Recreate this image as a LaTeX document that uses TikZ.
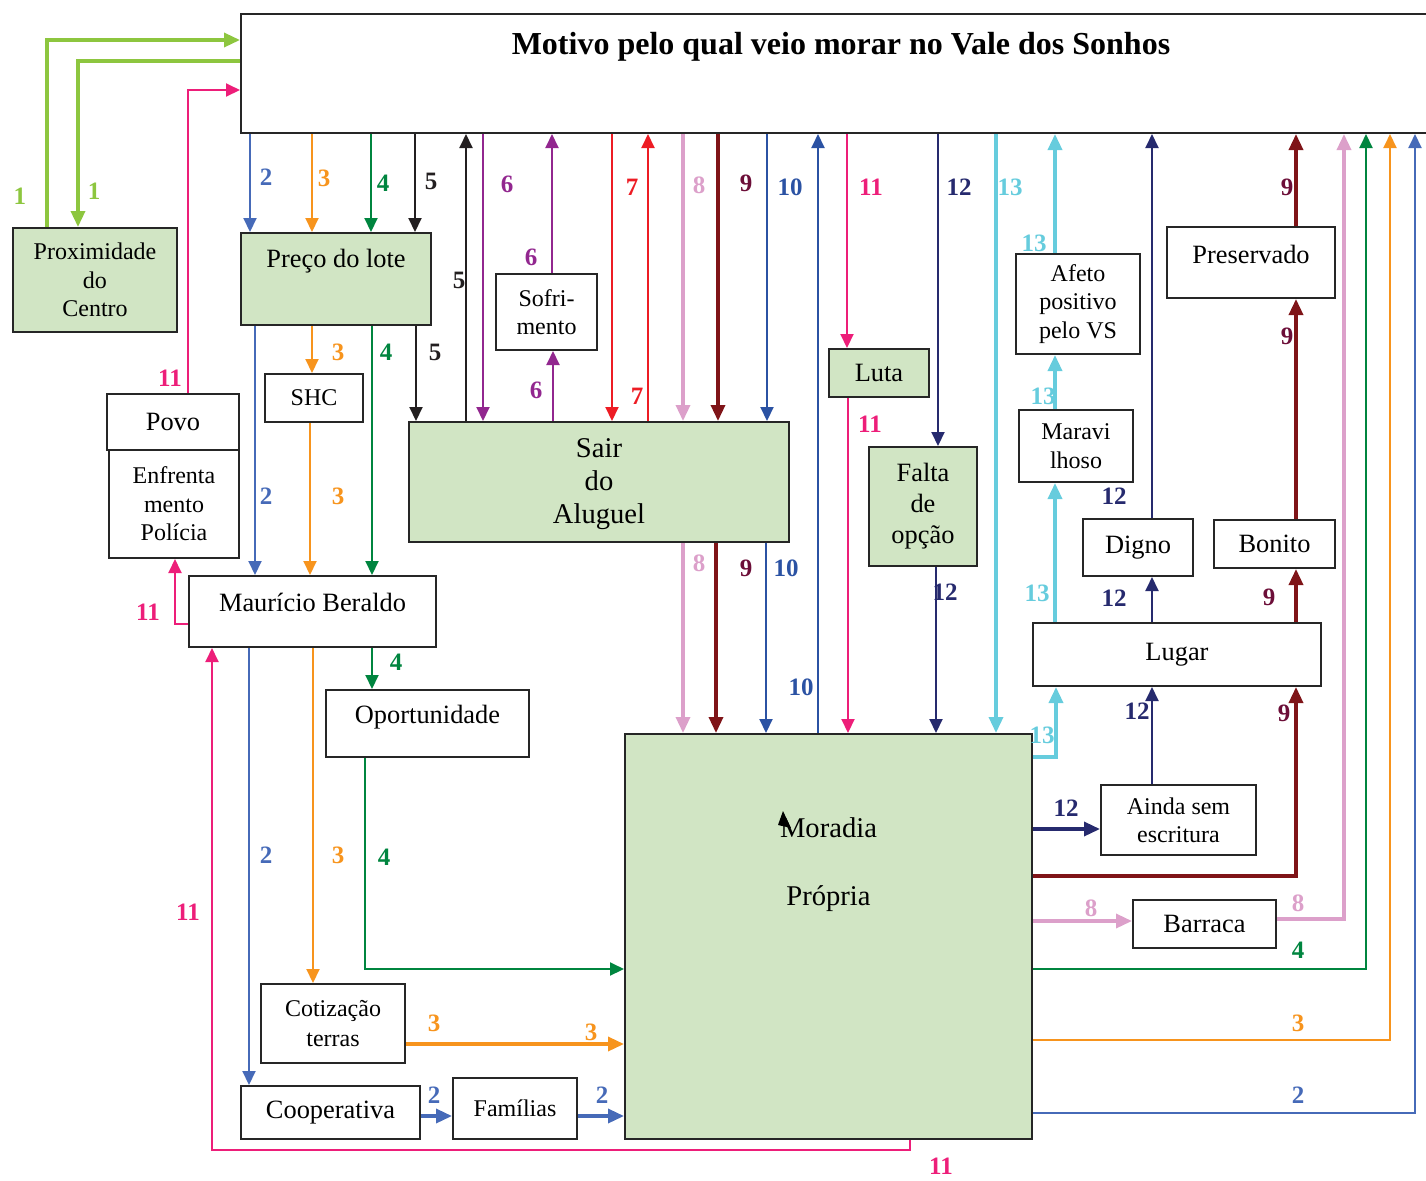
\documentclass[tikz,border=0pt]{standalone}
\usepackage{fontspec}
\setmainfont{Liberation Serif}
\usetikzlibrary{arrows.meta}
\definecolor{boxgreen}{RGB}{209,229,196}
\definecolor{c1}{RGB}{141,198,63}
\definecolor{c2}{RGB}{70,106,184}
\definecolor{c3}{RGB}{247,148,29}
\definecolor{c4}{RGB}{0,133,63}
\definecolor{c5}{RGB}{35,31,32}
\definecolor{c6}{RGB}{146,39,143}
\definecolor{c7}{RGB}{237,28,36}
\definecolor{c8}{RGB}{220,160,202}
\definecolor{c9}{RGB}{127,20,24}
\definecolor{c9t}{RGB}{108,14,56}
\definecolor{c10}{RGB}{43,82,163}
\definecolor{c11}{RGB}{237,30,121}
\definecolor{c12}{RGB}{38,42,110}
\definecolor{c13}{RGB}{102,204,221}
\newcommand\fntt{\fontsize{16}{19}\selectfont\bfseries}
\newcommand\fntl{\fontsize{13.2}{15.5}\selectfont}
\newcommand\fnts{\fontsize{12}{14.2}\selectfont}
\newcommand\fntxl{\fontsize{14.3}{16.5}\selectfont}
\newcommand\fntn{\fontsize{12.5}{14}\selectfont\bfseries}
\begin{document}
\begin{tikzpicture}[x=0.5pt,y=-0.5pt,
    box/.style={draw=black!85,line width=1pt,fill=white,anchor=north west,inner sep=1pt,align=center},
    gbox/.style={box,fill=boxgreen},
    lnk/.style={line width=1pt,-{Triangle[length=7pt,width=6.5pt]}},
    lnkb/.style={line width=1.7pt,-{Triangle[length=8pt,width=7pt]}},
    num/.style={font=\fntn,inner sep=0pt}]
    \useasboundingbox (0,0) rectangle (1426,1180);
    \clip (0,0) rectangle (1426,1180);

    %boxes
    \node[box,minimum width=600pt,minimum height=59.5pt,
        label={[anchor=center,yshift=-17pt,font=\fntt]north:Motivo pelo qual veio morar no Vale dos Sonhos}] (title) at (240,13) {};
    \node[gbox,minimum width=82pt,minimum height=52pt,font=\fnts] (prox) at (12,227) {Proximidade\\do\\Centro};
    \node[gbox,minimum width=95pt,minimum height=46pt,
        label={[anchor=center,yshift=-14.5pt,font=\fntl]north:Preço do lote}] (preco) at (240,232) {};
    \node[box,minimum width=49pt,minimum height=24pt,font=\fnts] (shc) at (264,373) {SHC};
    \node[box,minimum width=66pt,minimum height=28pt,font=\fntl] (povo) at (106,393) {Povo};
    \node[box,minimum width=65pt,minimum height=54pt,font=\fnts] (enfr) at (108,449) {Enfrenta\\mento\\Polícia};
    \node[box,minimum width=50.5pt,minimum height=38pt,font=\fnts] (sofr) at (495,273) {Sofri-\\mento};
    \node[gbox,minimum width=190pt,minimum height=60pt,
        label={[anchor=center,yshift=-31.5pt,align=center,font=\fntxl]north:Sair\\do\\Aluguel}] (sair) at (408,421) {};
    \node[gbox,minimum width=50pt,minimum height=24pt,font=\fntl] (luta) at (828,348) {Luta};
    \node[gbox,minimum width=54pt,minimum height=59.5pt,font=\fntl] (falta) at (868,446) {Falta\\de\\opção};
    \node[box,minimum width=62pt,minimum height=50pt,font=\fnts] (afeto) at (1015,253) {Afeto\\positivo\\pelo VS};
    \node[box,minimum width=57pt,minimum height=36pt,font=\fnts] (marav) at (1018,409) {Maravi\\lhoso};
    \node[box,minimum width=84pt,minimum height=35.5pt,
        label={[anchor=center,yshift=-14pt,font=\fntl]north:Preservado}] (preserv) at (1166,226) {};
    \node[box,minimum width=55pt,minimum height=28.5pt,font=\fntl] (digno) at (1082,518) {Digno};
    \node[box,minimum width=60.5pt,minimum height=24pt,font=\fntl] (bonito) at (1213,519) {Bonito};
    \node[box,minimum width=144pt,minimum height=31.5pt,font=\fntl] (lugar) at (1032,622) {Lugar};
    \node[box,minimum width=123.5pt,minimum height=35.5pt,
        label={[anchor=center,yshift=-13.5pt,font=\fntl]north:Maurício Beraldo}] (maur) at (188,575) {};
    \node[box,minimum width=101.5pt,minimum height=33.5pt,
        label={[anchor=center,yshift=-14pt,font=\fntl]north:Oportunidade}] (oport) at (325,689) {};
    \node[gbox,minimum width=203.5pt,minimum height=202.5pt,
        label={[anchor=center,yshift=-66pt,align=center,font=\fontsize{14.3}{34}\selectfont]north:Moradia\\Própria}] (morad) at (624,733) {};
    \node[box,minimum width=77.5pt,minimum height=35pt,font=\fnts] (ainda) at (1100,784) {Ainda sem\\escritura};
    \node[box,minimum width=71.5pt,minimum height=24pt,font=\fntl] (barraca) at (1132,899) {Barraca};
    \node[box,minimum width=72pt,minimum height=39.5pt,font=\fontsize{12}{15}\selectfont] (cotiz) at (260,983) {Cotização\\terras};
    \node[box,minimum width=89.5pt,minimum height=26.5pt,font=\fntl] (coop) at (240,1085) {Cooperativa};
    \node[box,minimum width=62pt,minimum height=30.5pt,font=\fnts] (famil) at (452,1077) {Famílias};
    \fill[black] (783,811) -- (778,825) -- (791,828) -- cycle;

    %1
    \draw[lnkb,c1] (47,0 |- prox.north) |- (title.west |- 0,40);
    \draw[lnkb,c1] (title.west |- 0,61) -| (78,0 |- prox.north);
    %2
    \draw[lnk,c2] (250,0 |- title.south) -- (250,0 |- preco.north);
    \draw[lnk,c2] (255,0 |- preco.south) -- (255,0 |- maur.north);
    \draw[lnk,c2] (249,0 |- maur.south) -- (249,0 |- coop.north);
    \draw[lnkb,c2] (coop.east |- 0,1116) -- (famil.west |- 0,1116);
    \draw[lnkb,c2] (famil.east |- 0,1116) -- (morad.west |- 0,1116);
    \draw[lnk,c2] (morad.east |- 0,1113) -| (1415,0 |- title.south);
    %3
    \draw[lnk,c3] (312,0 |- title.south) -- (312,0 |- preco.north);
    \draw[lnk,c3] (312,0 |- preco.south) -- (312,0 |- shc.north);
    \draw[lnk,c3] (310,0 |- shc.south) -- (310,0 |- maur.north);
    \draw[lnk,c3] (313,0 |- maur.south) -- (313,0 |- cotiz.north);
    \draw[lnkb,c3] (cotiz.east |- 0,1044) -- (morad.west |- 0,1044);
    \draw[lnk,c3] (morad.east |- 0,1040) -| (1390,0 |- title.south);
    %4
    \draw[lnk,c4] (371,0 |- title.south) -- (371,0 |- preco.north);
    \draw[lnk,c4] (372,0 |- preco.south) -- (372,0 |- maur.north);
    \draw[lnk,c4] (372,0 |- maur.south) -- (372,0 |- oport.north);
    \draw[lnk,c4] (365,0 |- oport.south) |- (morad.west |- 0,969);
    \draw[lnk,c4] (morad.east |- 0,969) -| (1366,0 |- title.south);
    %5
    \draw[lnk,c5] (415,0 |- title.south) -- (415,0 |- preco.north);
    \draw[lnk,c5] (416,0 |- preco.south) -- (416,0 |- sair.north);
    \draw[lnk,c5] (466,0 |- sair.north) -- (466,0 |- title.south);
    %6
    \draw[lnk,c6] (483,0 |- title.south) -- (483,0 |- sair.north);
    \draw[lnk,c6] (553,0 |- sair.north) -- (553,0 |- sofr.south);
    \draw[lnk,c6] (552,0 |- sofr.north) -- (552,0 |- title.south);
    %7
    \draw[lnk,c7] (612,0 |- title.south) -- (612,0 |- sair.north);
    \draw[lnk,c7] (648,0 |- sair.north) -- (648,0 |- title.south);
    %8
    \draw[lnkb,c8] (683,0 |- title.south) -- (683,0 |- sair.north);
    \draw[lnkb,c8] (683,0 |- sair.south) -- (683,0 |- morad.north);
    \draw[lnkb,c8] (morad.east |- 0,921) -- (barraca.west |- 0,921);
    \draw[lnkb,c8] (barraca.east |- 0,919) -| (1344,0 |- title.south);
    %9
    \draw[lnkb,c9] (718,0 |- title.south) -- (718,0 |- sair.north);
    \draw[lnkb,c9] (716,0 |- sair.south) -- (716,0 |- morad.north);
    \draw[lnkb,c9] (morad.east |- 0,876) -| (1296,0 |- lugar.south);
    \draw[lnkb,c9] (1296,0 |- lugar.north) -- (1296,0 |- bonito.south);
    \draw[lnkb,c9] (1296,0 |- bonito.north) -- (1296,0 |- preserv.south);
    \draw[lnkb,c9] (1296,0 |- preserv.north) -- (1296,0 |- title.south);
    %10
    \draw[lnk,c10] (767,0 |- title.south) -- (767,0 |- sair.north);
    \draw[lnk,c10] (766,0 |- sair.south) -- (766,0 |- morad.north);
    \draw[lnk,c10] (818,0 |- morad.north) -- (818,0 |- title.south);
    %11
    \draw[lnk,c11] (188,0 |- povo.north) |- (title.west |- 0,90);
    \draw[lnk,c11] (maur.west |- 0,624) -| (175,0 |- enfr.south);
    \draw[lnk,c11] (910,0 |- morad.south) -- (910,1150) -| (212,0 |- maur.south);
    \draw[lnk,c11] (847,0 |- title.south) -- (847,0 |- luta.north);
    \draw[lnk,c11] (848,0 |- luta.south) -- (848,0 |- morad.north);
    %12
    \draw[lnk,c12] (938,0 |- title.south) -- (938,0 |- falta.north);
    \draw[lnk,c12] (936,0 |- falta.south) -- (936,0 |- morad.north);
    \draw[lnkb,c12] (morad.east |- 0,829) -- (ainda.west |- 0,829);
    \draw[lnk,c12] (1152,0 |- ainda.north) -- (1152,0 |- lugar.south);
    \draw[lnk,c12] (1152,0 |- lugar.north) -- (1152,0 |- digno.south);
    \draw[lnk,c12] (1152,0 |- digno.north) -- (1152,0 |- title.south);
    %13
    \draw[lnkb,c13] (996,0 |- title.south) -- (996,0 |- morad.north);
    \draw[lnkb,c13] (morad.east |- 0,757) -| (1056,0 |- lugar.south);
    \draw[lnkb,c13] (1055,0 |- lugar.north) -- (1055,0 |- marav.south);
    \draw[lnkb,c13] (1055,0 |- marav.north) -- (1055,0 |- afeto.south);
    \draw[lnkb,c13] (1055,0 |- afeto.north) -- (1055,0 |- title.south);

    %numbers
    \foreach \x/\y/\t/\c [count=\i] in {20/196/1/c1,94/191/1/c1,
        266/177/2/c2,266/496/2/c2,266/855/2/c2,434/1095/2/c2,602/1095/2/c2,1298/1095/2/c2,
        324/178/3/c3,338/352/3/c3,338/496/3/c3,338/855/3/c3,434/1023/3/c3,591/1032/3/c3,1298/1023/3/c3,
        383/183/4/c4,386/352/4/c4,396/662/4/c4,384/857/4/c4,1298/950/4/c4,
        431/181/5/c5,435/352/5/c5,459/280/5/c5,
        507/184/6/c6,536/390/6/c6,531/257/6/c6,
        632/187/7/c7,637/396/7/c7,
        699/185/8/c8,699/563/8/c8,1091/908/8/c8,1298/903/8/c8,
        746/183/9/c9t,746/568/9/c9t,1284/713/9/c9t,1269/597/9/c9t,1287/336/9/c9t,1287/187/9/c9t,
        790/187/10/c10,786/568/10/c10,801/687/10/c10,
        170/378/11/c11,148/612/11/c11,188/912/11/c11,941/1166/11/c11,871/187/11/c11,870/424/11/c11,
        959/187/12/c12,945/592/12/c12,1066/808/12/c12,1137/711/12/c12,1114/598/12/c12,1114/496/12/c12,
        1010/187/13/c13,1042/735/13/c13,1037/593/13/c13,1043/396/13/c13,1034/243/13/c13}{
        \node[num,text=\c] (n\i) at (\x,\y) {\t};
    }
\end{tikzpicture}
\end{document}
